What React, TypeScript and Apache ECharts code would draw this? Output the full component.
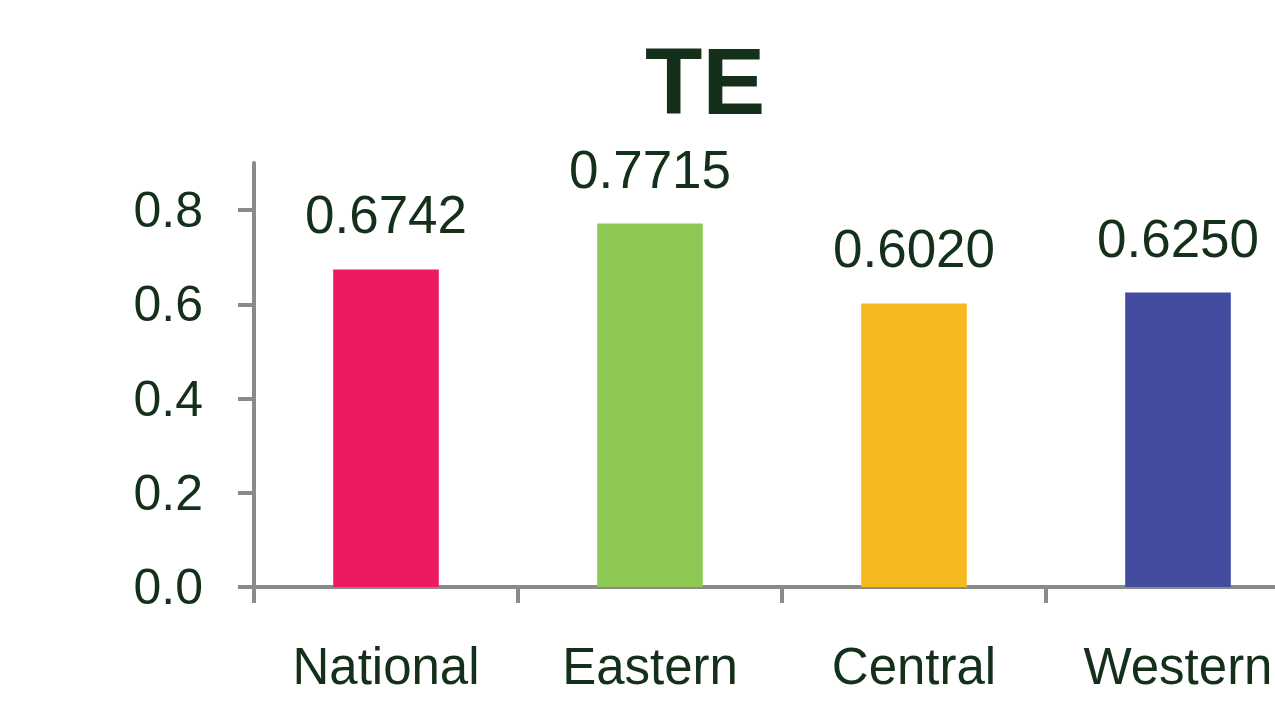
import React, { useEffect, useRef } from "react";
import * as echarts from "echarts";

const categories = ["National", "Eastern", "Central", "Western"];
const values = [0.6742, 0.7715, 0.602, 0.625];
const barColors = ["#ED1A63", "#8FC955", "#F5B91E", "#434C9F"];
const yTicks = [0, 0.2, 0.4, 0.6, 0.8];
const titleText = "TE";

const TEXT = "#14301A";
const AXIS = "#878C89";
const FONT = "'Liberation Sans', Arial, sans-serif";

export default function App() {
  const ref = useRef<HTMLDivElement>(null);
  useEffect(() => {
    if (!ref.current) return;
    const chart = echarts.init(ref.current, null, { renderer: "svg" });
    chart.setOption({
      animation: false,
      backgroundColor: "#ffffff",
      title: {
        text: titleText,
        left: 645,
        top: 34,
        padding: 0,
        textStyle: { fontFamily: FONT, fontSize: 94, fontWeight: "bold", color: TEXT },
      },
      grid: {
        left: 254,
        top: 163,
        width: 1056,
        height: 424,
        containLabel: false,
        outerBoundsMode: "none",
      },
      xAxis: {
        type: "category",
        data: categories,
        boundaryGap: true,
        axisLine: { lineStyle: { color: AXIS, width: 4 } },
        axisTick: { show: true, length: 16, lineStyle: { color: AXIS, width: 4 }, alignWithLabel: false },
        axisLabel: { margin: 54, fontFamily: FONT, fontSize: 51, color: TEXT },
        splitLine: { show: false },
      },
      yAxis: {
        type: "value",
        min: 0,
        max: 0.9,
        interval: 0.2,
        axisLine: { show: true, lineStyle: { color: AXIS, width: 4 } },
        axisTick: { show: true, length: 16, lineStyle: { color: AXIS, width: 4 }, customValues: yTicks },
        axisLabel: {
          margin: 51,
          fontFamily: FONT,
          fontSize: 50,
          color: TEXT,
          customValues: yTicks,
          formatter: (v: number) => v.toFixed(1),
        },
        splitLine: { show: false },
      },
      series: [
        {
          type: "bar",
          barWidth: "40%",
          data: values.map((v, i) => ({ value: v, itemStyle: { color: barColors[i] } })),
          label: {
            show: true,
            position: "top",
            distance: 28,
            fontFamily: FONT,
            fontSize: 53,
            color: TEXT,
            formatter: (p: any) => Number(p.value).toFixed(4),
          },
        },
      ],
    });
    return () => chart.dispose();
  }, []);
  return (
    <div
      ref={ref}
      style={{ position: "fixed", left: 0, top: 0, width: 1275, height: 708, overflow: "hidden" }}
    />
  );
}
